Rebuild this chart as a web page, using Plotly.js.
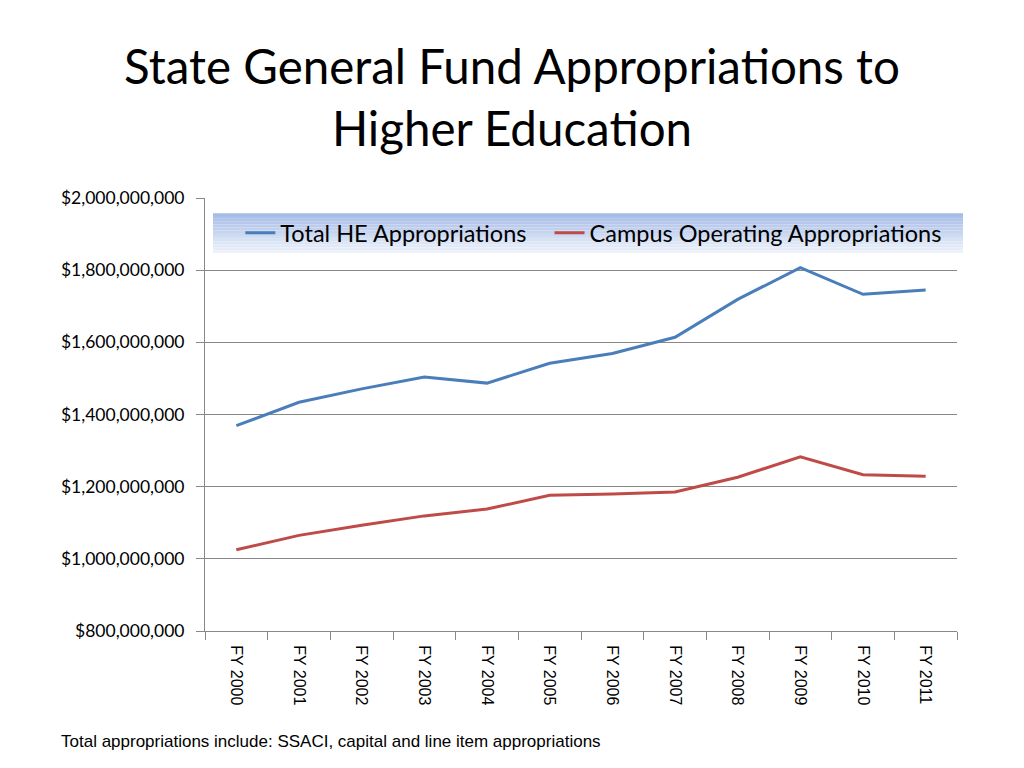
<!DOCTYPE html>
<html>
<head>
<meta charset="utf-8">
<script src="https://cdn.plot.ly/plotly-3.0.1.min.js"></script>
<style>html,body{margin:0;padding:0;background:#fff;}#chart{width:1024px;height:768px;}</style>
</head>
<body>
<div id="chart"></div>
<script>
const categories = ["FY 2000","FY 2001","FY 2002","FY 2003","FY 2004","FY 2005","FY 2006","FY 2007","FY 2008","FY 2009","FY 2010","FY 2011"];
const totalHE = [1369000000,1434000000,1471000000,1504000000,1487000000,1542000000,1569000000,1614000000,1719000000,1807000000,1733000000,1745000000];
const campusOp = [1025000000,1065000000,1093000000,1119000000,1138000000,1176000000,1180000000,1185000000,1226000000,1283000000,1233000000,1229000000];
const yTicks = [800000000,1000000000,1200000000,1400000000,1600000000,1800000000,2000000000];

const traces = [
  {x: categories, y: totalHE, type: 'scatter', mode: 'lines', name: 'Total HE Appropriations&nbsp;&nbsp;&nbsp;',
   line: {color: '#4a7ebb', width: 3}},
  {x: categories, y: campusOp, type: 'scatter', mode: 'lines', name: 'Campus Operating Appropriations',
   line: {color: '#be4b48', width: 3}}
];

// gradient band behind legend
const shapes = [];
const nBands = 14;
const y0 = 0.873, y1 = 0.965;
for (let i = 0; i < nBands; i++) {
  const t = i / (nBands - 1);
  const r = Math.round(165 + (236 - 165) * t);
  const g = Math.round(188 + (241 - 188) * t);
  const b = Math.round(230 + (250 - 230) * t);
  shapes.push({type: 'rect', xref: 'paper', yref: 'paper', layer: 'below',
    x0: 0.0106, x1: 1.008,
    y1: y1 - (y1 - y0) * i / nBands, y0: y1 - (y1 - y0) * (i + 1) / nBands,
    fillcolor: `rgb(${r},${g},${b})`, line: {width: 0}});
}

const layout = {
  width: 1024, height: 768,
  margin: {l: 205, r: 67, t: 198, b: 137},
  paper_bgcolor: '#fff', plot_bgcolor: '#fff',
  title: {text: 'State General Fund Appropriations to<br>Higher Education', x: 0.5, xanchor: 'center',
    y: 0.89, yanchor: 'middle', yref: 'container',
    font: {family: 'Lato, "Open Sans", sans-serif', size: 47.5, color: '#000'}},
  showlegend: true,
  legend: {orientation: 'h', x: 0.047, xanchor: 'left', y: 0.919, yanchor: 'middle',
    bgcolor: 'rgba(0,0,0,0)', font: {family: 'Lato, sans-serif', size: 23.5, color: '#000'},
    itemwidth: 30, tracegroupgap: 0},
  xaxis: {type: 'category', range: [-0.5, 11.5], tickangle: 90, tickson: 'boundaries',
    ticks: 'outside', ticklen: 8, tickcolor: '#888', showline: true, linecolor: '#888', linewidth: 1,
    showgrid: false, zeroline: false, fixedrange: true, ticklabelstandoff: 10,
    tickfont: {family: '"Liberation Sans", Arial, sans-serif', size: 16, color: '#000'}},
  yaxis: {range: [800000000, 2000000000], tickvals: yTicks, tickformat: '$,.0f',
    ticks: 'outside', ticklen: 8, tickcolor: '#888', showline: true, linecolor: '#888', linewidth: 1,
    showgrid: true, gridcolor: '#888', gridwidth: 1, zeroline: false, fixedrange: true,
    ticklabelstandoff: 8,
    tickfont: {family: 'Lato, sans-serif', size: 17.5, color: '#000'}},
  shapes: shapes,
  annotations: [{text: 'Total appropriations include: SSACI, capital and line item appropriations',
    xref: 'paper', yref: 'paper', x: -0.194, y: -0.256, xanchor: 'left', yanchor: 'middle',
    showarrow: false, font: {family: '"Liberation Sans", Arial, sans-serif', size: 17, color: '#000'}}]
};

Plotly.newPlot('chart', traces, layout, {displayModeBar: false, staticPlot: true});
</script>
</body>
</html>
